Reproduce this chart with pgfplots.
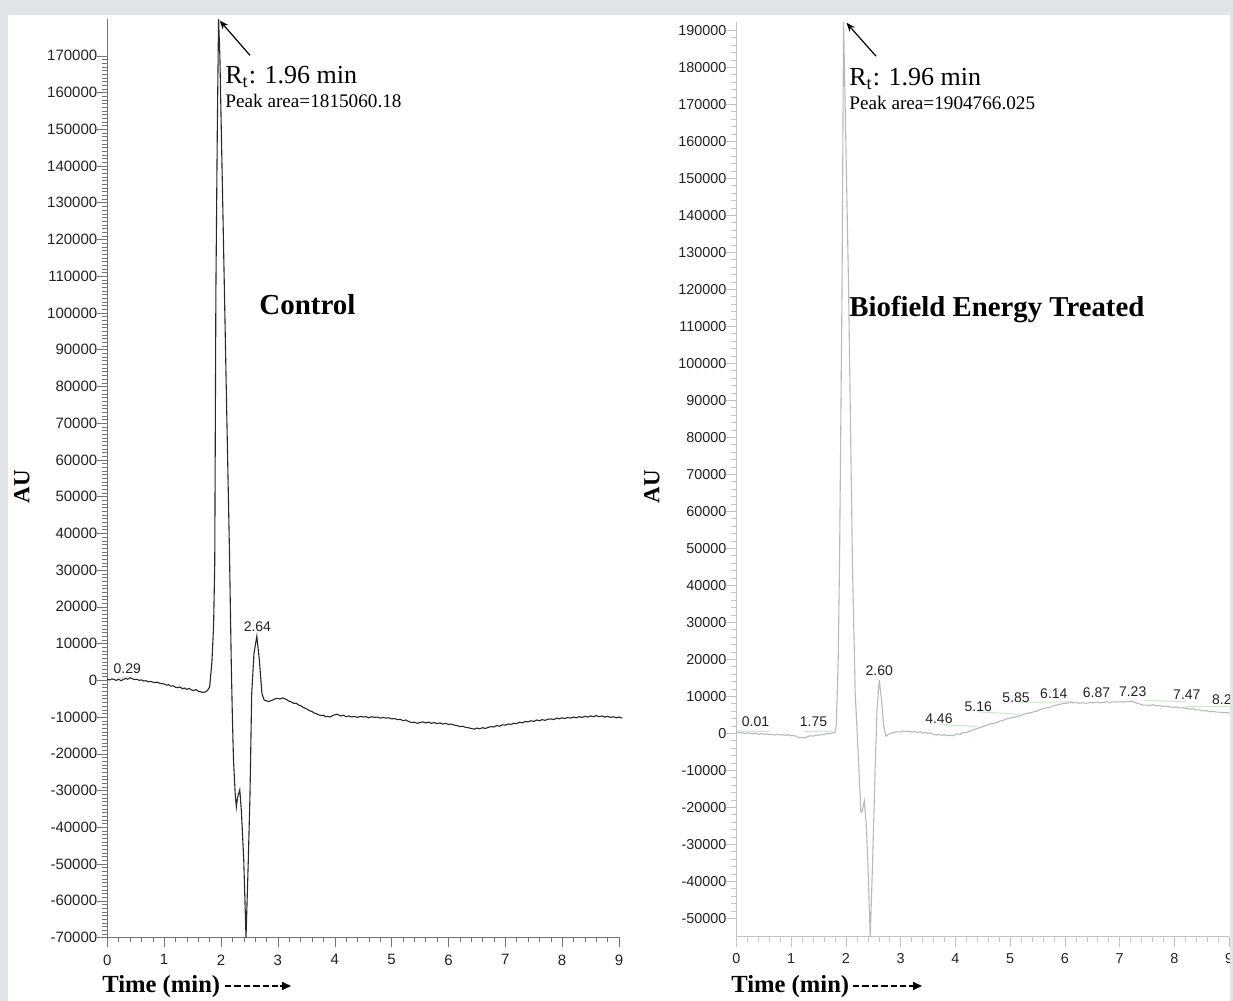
\documentclass[border=0pt]{standalone}
\usepackage{fontspec}
\setmainfont{Liberation Serif}
\newfontfamily\lsans{Liberation Sans}
\usepackage{pgfplots}
\pgfplotsset{compat=1.18}
\usetikzlibrary{arrows.meta}

\definecolor{bg}{RGB}{226,229,231}
\definecolor{ctrl}{RGB}{40,40,40}
\definecolor{trt}{RGB}{185,185,185}
\definecolor{axl}{RGB}{115,115,115}
\definecolor{axr}{RGB}{195,195,195}
\definecolor{gbase}{RGB}{200,232,200}
\definecolor{tl}{RGB}{35,35,35}

\pgfplotsset{
  chrom/.style={
    scale only axis, anchor=south west, clip=false,
    axis x line=bottom, axis y line=left,
    xmin=0, xmax=9, xtick={0,...,9}, minor x tick num=4,
    xticklabels={0,1,2,3,4,5,6,7,8,9},
    scaled x ticks=false, scaled y ticks=false,
    tick align=outside, major tick length=5pt, minor tick length=2.5pt,
    tick label style={text=tl},
    yticklabel style={xshift=3.5pt},
  },
}

\newcommand{\pk}[3]{\node[font=\lsans\fontsize{7}{8}\selectfont, text=tl, inner sep=0pt] at (axis cs:#1,#2) {#3};}

\begin{document}
\begin{tikzpicture}
\path[use as bounding box] (0,0) rectangle (616.5pt,500.5pt);
\clip (0,0) rectangle (616.5pt,500.5pt);
\fill[bg] (0,0) rectangle (616.5pt,500.5pt);
\fill[white] (4pt,0) rectangle (615pt,493pt);

% ---------------- Control ----------------
\begin{axis}[chrom,
  at={(53.65pt,31.75pt)}, width=255.85pt, height=459.25pt,
  ymin=-70000, ymax=180000,
  ytick={-70000,-60000,...,170000}, minor y tick num=9,
  yticklabels={-70000,-60000,-50000,-40000,-30000,-20000,-10000,0,10000,20000,30000,40000,50000,60000,70000,80000,90000,100000,110000,120000,130000,140000,150000,160000,170000},
  axis line style={-, axl}, tick style={axl},
  tick label style={font=\lsans\fontsize{7.5}{8}\selectfont},
]
\addplot[gbase, line width=0.5pt] coordinates {(0.20,700) (0.37,1000)};
\addplot[ctrl, line width=0.55pt] coordinates {
(0.00,300) (0.04,100) (0.08,400) (0.12,200) (0.16,0) (0.20,300) (0.24,-100) (0.28,200)
(0.32,500) (0.36,300) (0.40,700) (0.44,400) (0.48,200) (0.52,300) (0.56,0) (0.60,100)
(0.64,-200) (0.68,-100) (0.72,-400) (0.76,-300) (0.80,-500) (0.84,-600) (0.88,-500)
(0.92,-800) (0.96,-900) (1.00,-1000) (1.04,-1300) (1.08,-1200) (1.12,-1600) (1.16,-1500)
(1.20,-1900) (1.24,-2000) (1.28,-1800) (1.32,-2300) (1.36,-2100) (1.40,-2500) (1.44,-2200)
(1.48,-2600) (1.52,-2800) (1.56,-2500) (1.60,-3000) (1.64,-3100) (1.68,-3300) (1.72,-3200)
(1.76,-2800) (1.80,-1800) (1.84,5000) (1.87,15000) (1.89,32000) (1.91,106000) (1.935,150000)
(1.957,180000) (1.98,170000) (2.01,146000) (2.06,106000) (2.10,73500) (2.15,34000)
(2.18,5000) (2.20,-10000) (2.22,-21800) (2.25,-31000) (2.27,-34500) (2.29,-32000)
(2.33,-29800) (2.36,-36000) (2.40,-49000) (2.44,-70000) (2.48,-49000) (2.51,-30900)
(2.54,-3600) (2.58,7300) (2.63,12000) (2.675,5400) (2.72,-3600) (2.76,-5400) (2.80,-5600)
(2.84,-5800) (2.88,-5500) (2.92,-5300) (2.96,-5000) (3.00,-4900) (3.04,-5100) (3.08,-4800)
(3.12,-5000) (3.16,-5300) (3.20,-5700) (3.24,-5900) (3.28,-6300) (3.32,-6200) (3.36,-6700)
(3.40,-6900) (3.44,-7300) (3.48,-7600) (3.52,-7900) (3.56,-8300) (3.60,-8500) (3.64,-8900)
(3.68,-9100) (3.72,-9400) (3.76,-9600) (3.80,-9500) (3.84,-9900) (3.88,-9800) (3.92,-10000)
(3.96,-9600) (4.00,-9400) (4.04,-9200) (4.08,-9500) (4.10,-9700) (4.15,-9500) (4.20,-9900)
(4.25,-9700) (4.30,-10000) (4.35,-9800) (4.40,-10100) (4.45,-9800) (4.50,-10000) (4.55,-9900)
(4.60,-10200) (4.65,-9900) (4.70,-10100) (4.75,-10000) (4.80,-10300) (4.85,-10100) (4.90,-10300)
(4.95,-10200) (5.00,-10500) (5.05,-10400) (5.10,-10700) (5.15,-10600) (5.20,-11000) (5.25,-10800)
(5.30,-11200) (5.35,-11500) (5.40,-11400) (5.45,-11700) (5.50,-11500) (5.55,-11300) (5.60,-11600)
(5.65,-11400) (5.70,-11700) (5.75,-11500) (5.80,-11800) (5.85,-11600) (5.90,-11900) (5.95,-11700)
(6.00,-12000) (6.05,-11900) (6.10,-12200) (6.15,-12300) (6.20,-12600) (6.25,-12500) (6.30,-12800)
(6.35,-12900) (6.40,-13100) (6.45,-13300) (6.50,-13000) (6.55,-13200) (6.60,-12900) (6.65,-13100)
(6.70,-12800) (6.75,-12600) (6.80,-12700) (6.85,-12300) (6.90,-12500) (6.95,-12100) (7.00,-12200)
(7.05,-11900) (7.10,-12000) (7.15,-11700) (7.20,-11800) (7.25,-11400) (7.30,-11600) (7.35,-11200)
(7.40,-11300) (7.45,-11000) (7.50,-11200) (7.55,-10800) (7.60,-11000) (7.65,-10700) (7.70,-10900)
(7.75,-10600) (7.80,-10500) (7.85,-10700) (7.90,-10300) (7.95,-10500) (8.00,-10200) (8.05,-10400)
(8.10,-10100) (8.15,-10300) (8.20,-10000) (8.25,-10200) (8.30,-9900) (8.35,-10100) (8.40,-9800)
(8.45,-10000) (8.50,-9700) (8.55,-9900) (8.60,-9600) (8.65,-9900) (8.70,-9700) (8.75,-10000)
(8.80,-9800) (8.85,-10100) (8.90,-9900) (8.95,-10200) (9.00,-10000) (9.06,-10300)
};
\pk{0.35}{3300}{0.29}
\pk{2.64}{14700}{2.64}
\draw[-{Stealth[length=4.5pt,width=3.5pt]}, line width=0.6pt] (axis cs:2.51,170100) -- (axis cs:1.975,179600);
\end{axis}

% ---------------- Biofield Energy Treated ----------------
\begin{axis}[chrom,
  at={(368.2pt,32.15pt)}, width=246.3pt, height=457.5pt,
  ymin=-55000, ymax=192300,
  ytick={-50000,-40000,...,190000}, minor y tick num=4,
  yticklabels={-50000,-40000,-30000,-20000,-10000,0,10000,20000,30000,40000,50000,60000,70000,80000,90000,100000,110000,120000,130000,140000,150000,160000,170000,180000,190000},
  axis line style={-, axr}, tick style={axr},
  tick label style={font=\lsans\fontsize{7.2}{8}\selectfont},
]
\addplot[gbase, line width=0.5pt] coordinates {(0.02,600) (0.60,400)};
\addplot[gbase, line width=0.5pt] coordinates {(1.25,500) (1.75,600)};
\addplot[gbase, line width=0.5pt] coordinates {(3.72,2400) (4.39,1800)};
\addplot[gbase, line width=0.5pt] coordinates {(4.39,5800) (5.18,5100)};
\addplot[gbase, line width=0.5pt] coordinates {(5.18,8300) (6.15,8500)};
\addplot[gbase, line width=0.5pt] coordinates {(7.45,8900) (8.22,8500)};
\addplot[gbase, line width=0.5pt] coordinates {(8.22,7100) (9.06,7100)};
\addplot[trt, line width=0.55pt] coordinates {
(0.00,300) (0.05,100) (0.10,200) (0.15,-100) (0.20,100) (0.25,0) (0.30,-200) (0.35,0)
(0.40,-300) (0.45,-100) (0.50,-300) (0.55,-200) (0.60,-400) (0.65,-300) (0.70,-500)
(0.75,-300) (0.80,-500) (0.85,-400) (0.90,-600) (0.95,-400) (1.00,-700) (1.05,-600)
(1.10,-900) (1.15,-1300) (1.20,-1100) (1.25,-1300) (1.30,-900) (1.35,-700) (1.40,-800)
(1.45,-500) (1.50,-600) (1.55,-300) (1.60,-400) (1.65,-100) (1.70,-200) (1.75,100) (1.80,200)
(1.825,2000) (1.86,20000) (1.885,47000) (1.93,120000) (1.958,192300)
(2.05,120000) (2.12,46000) (2.17,11000) (2.23,-7000) (2.275,-21400) (2.30,-21000)
(2.336,-18300) (2.37,-24000) (2.40,-34000) (2.445,-55000) (2.49,-34000) (2.54,-7000)
(2.57,6500) (2.61,14400) (2.65,9200) (2.69,2000) (2.73,-800) (2.78,-300) (2.85,100)
(2.93,400) (3.00,300) (3.05,600) (3.10,400) (3.15,600) (3.20,300) (3.25,500) (3.30,200)
(3.36,400) (3.40,100) (3.45,200) (3.50,-100) (3.55,100) (3.60,-300) (3.66,-500) (3.70,-300)
(3.75,-600) (3.80,-400) (3.85,-700) (3.90,-500) (3.97,-700) (4.02,-200) (4.08,-400)
(4.13,100) (4.21,200) (4.27,600) (4.33,900) (4.39,1200) (4.45,1500) (4.51,1900) (4.57,2100)
(4.63,2500) (4.70,2600) (4.76,2900) (4.82,3300) (4.88,3500) (4.94,3900) (5.00,4100)
(5.06,4300) (5.12,4500) (5.18,4700) (5.24,5100) (5.30,5300) (5.36,5500) (5.42,5700)
(5.49,6000) (5.55,6400) (5.61,6600) (5.67,6900) (5.73,7000) (5.79,7400) (5.85,7600)
(5.91,7800) (5.97,8000) (6.03,8100) (6.09,8300) (6.15,8200) (6.21,8300) (6.27,8100)
(6.33,8200) (6.40,8100) (6.46,8300) (6.52,8200) (6.58,8400) (6.64,8200) (6.70,8300)
(6.76,8500) (6.82,8300) (6.88,8500) (6.94,8400) (7.01,8500) (7.07,8400) (7.13,8600)
(7.18,8500) (7.22,8700) (7.27,8400) (7.32,8100) (7.37,7900) (7.43,7600) (7.49,7600)
(7.55,7500) (7.61,7700) (7.67,7400) (7.73,7500) (7.79,7200) (7.85,7300) (7.92,7100)
(7.98,7000) (8.04,7100) (8.10,6800) (8.16,6900) (8.22,6700) (8.28,6500) (8.34,6600)
(8.40,6300) (8.46,6300) (8.53,6000) (8.59,6100) (8.65,5800) (8.71,5900) (8.77,5700)
(8.83,5700) (8.89,5500) (8.95,5600) (9.01,5400) (9.06,5500)
};
\pk{0.35}{3000}{0.01}
\pk{1.41}{3000}{1.75}
\pk{2.61}{17000}{2.60}
\pk{3.70}{3800}{4.46}
\pk{4.42}{7100}{5.16}
\pk{5.11}{9500}{5.85}
\pk{5.80}{10700}{6.14}
\pk{6.58}{10900}{6.87}
\pk{7.24}{11100}{7.23}
\pk{8.23}{10300}{7.47}
\pk{8.94}{9000}{8.22}
\draw[-{Stealth[length=4.5pt,width=3.5pt]}, line width=0.6pt] (axis cs:2.55,183000) -- (axis cs:2.01,192000);
\end{axis}

% ---------------- texts ----------------
\node[anchor=base west, inner sep=0pt, font=\fontsize{13}{15}\selectfont] at (112.5pt,458.5pt) {R\textsubscript{t}: 1.96 min};
\node[anchor=base west, inner sep=0pt, font=\fontsize{9.6}{11}\selectfont] at (112.5pt,446.5pt) {Peak area=1815060.18};
\node[anchor=base west, inner sep=0pt, font=\fontsize{13}{15}\selectfont] at (424.5pt,457.5pt) {R\textsubscript{t}: 1.96 min};
\node[anchor=base west, inner sep=0pt, font=\fontsize{9.6}{11}\selectfont] at (424.5pt,445.5pt) {Peak area=1904766.025};
\node[anchor=base west, inner sep=0pt, font=\fontsize{14.5}{17}\selectfont\bfseries] at (129.5pt,343pt) {Control};
\node[anchor=base west, inner sep=0pt, font=\fontsize{14.4}{17}\selectfont\bfseries] at (424.5pt,342pt) {Biofield Energy Treated};
\node[rotate=90, inner sep=0pt, font=\fontsize{11.5}{13}\selectfont\bfseries] at (11pt,257pt) {AU};
\node[rotate=90, inner sep=0pt, font=\fontsize{11.5}{13}\selectfont\bfseries] at (326pt,257pt) {AU};
\node[anchor=base west, inner sep=0pt, font=\fontsize{12.3}{14}\selectfont\bfseries] at (51pt,4pt) {Time (min)};
\node[anchor=base west, inner sep=0pt, font=\fontsize{12.3}{14}\selectfont\bfseries] at (365.5pt,4pt) {Time (min)};
\draw[line width=0.8pt, dash pattern=on 3.2pt off 1.5pt] (112.5pt,7.5pt) -- (141pt,7.5pt);
\draw[-{Triangle[length=4.5pt,width=4pt]}, line width=0.8pt] (140pt,7.5pt) -- (145.5pt,7.5pt);
\draw[line width=0.8pt, dash pattern=on 3.2pt off 1.5pt] (426.5pt,7.5pt) -- (456pt,7.5pt);
\draw[-{Triangle[length=4.5pt,width=4pt]}, line width=0.8pt] (455pt,7.5pt) -- (461pt,7.5pt);
\fill[bg] (615pt,0) rectangle (616.5pt,500.5pt);
\end{tikzpicture}
\end{document}
